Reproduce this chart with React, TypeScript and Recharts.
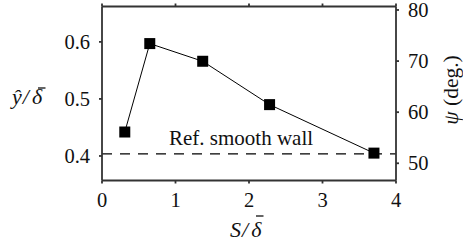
import {
  ComposedChart,
  Line,
  XAxis,
  YAxis,
  ReferenceLine,
} from "recharts";

// spacing S/delta and the measured ŷ/delta
const spacing = [0.31, 0.65, 1.37, 2.28, 3.7];
const yHat = [0.442, 0.597, 0.566, 0.49, 0.405];
const refSmoothWall = 0.4035;

const xTicks = [0, 1, 2, 3, 4];
const leftTicks = [0.4, 0.5, 0.6];
const rightTicks = [50, 60, 70, 80];

const data = spacing.map((s, i) => ({ s, y: yHat[i] }));

const FONT = "Liberation Serif, Times New Roman, serif";
const AXIS = "#333";
const INK = "#111";

const Square = (props: any) => {
  const { cx, cy } = props;
  if (cx == null || cy == null) return <g />;
  return <rect x={cx - 5.5} y={cy - 5.5} width={11} height={11} fill="#000" />;
};

const makeTick = (anchor: "start" | "middle" | "end", fmt: (v: number) => string) => (props: any) => {
  const { x, y, payload } = props;
  const dy = anchor === "middle" ? 14.5 : 7;
  return (
    <text x={x} y={y} dy={dy} textAnchor={anchor} fontFamily={FONT} fontSize={20.5} fill={INK}>
      {fmt(payload.value)}
    </text>
  );
};

// "a/δ̄" typeset loosely, with the bar over delta drawn as a line
const RatioLabel = ({ x, y, num, barLift }: { x: number; y: number; num: string; barLift: number }) => (
  <g>
    <text x={x} y={y} fontFamily={FONT} fontSize={22} fontStyle="italic" fill={INK}>
      {num}
      <tspan dx={1}>/</tspan>
      <tspan dx={3}>δ</tspan>
    </text>
    <line x1={x + 26} x2={x + 33.5} y1={y - barLift} y2={y - barLift} stroke={INK} strokeWidth={1.3} />
  </g>
);

export default function App() {
  return (
    <div style={{ position: "absolute", left: 0, top: 0, width: 463, height: 251 }}>
      <ComposedChart
        width={463}
        height={251}
        data={data}
        margin={{ top: 0, right: 0, bottom: 0, left: 0 }}
      >
        <XAxis
          xAxisId="bottom"
          dataKey="s"
          type="number"
          domain={[0, 4]}
          ticks={xTicks}
          height={70.5}
          tickSize={3}
          tickMargin={9}
          stroke={AXIS}
          strokeWidth={1.8}
          tick={makeTick("middle", (v) => String(v))}
          label={{ content: () => <RatioLabel x={230} y={237} num="S" barLift={21} /> }}
        />
        <XAxis
          xAxisId="top"
          orientation="top"
          dataKey="s"
          type="number"
          domain={[0, 4]}
          ticks={xTicks}
          height={6.5}
          tickSize={3}
          stroke={AXIS}
          strokeWidth={1.8}
          tick={() => <g />}
        />
        <YAxis
          yAxisId="left"
          type="number"
          domain={[0.357, 0.662]}
          ticks={leftTicks}
          width={102}
          tickSize={3}
          tickMargin={9}
          stroke={AXIS}
          strokeWidth={1.8}
          tick={makeTick("end", (v) => v.toFixed(1))}
          allowDataOverflow
          label={{ content: () => <RatioLabel x={12} y={104} num="ŷ" barLift={16} /> }}
        />
        <YAxis
          yAxisId="right"
          orientation="right"
          type="number"
          domain={[46.63, 80.68]}
          ticks={rightTicks}
          width={67}
          tickSize={3}
          tickMargin={9}
          stroke={AXIS}
          strokeWidth={1.8}
          tick={makeTick("start", (v) => String(v))}
          allowDataOverflow
          label={{
            content: () => (
              <text
                x={458}
                y={90}
                transform="rotate(-90 458 90)"
                textAnchor="middle"
                fontFamily={FONT}
                fontSize={21.5}
                fill={INK}
              >
                <tspan fontStyle="italic">ψ</tspan> (deg.)
              </text>
            ),
          }}
        />
        <ReferenceLine
          xAxisId="bottom"
          yAxisId="left"
          y={refSmoothWall}
          stroke="#000"
          strokeWidth={1.3}
          strokeDasharray="10 8"
          label={{
            content: (p: any) => {
              const vb = p.viewBox || {};
              return (
                <text x={(vb.x ?? 0) + 67} y={(vb.y ?? 0) - 9} fontFamily={FONT} fontSize={21} fill={INK}>
                  Ref. smooth wall
                </text>
              );
            },
          }}
        />
        <Line
          xAxisId="bottom"
          yAxisId="left"
          dataKey="y"
          type="linear"
          stroke="#000"
          strokeWidth={1}
          dot={<Square />}
          activeDot={false}
          isAnimationActive={false}
        />
      </ComposedChart>
    </div>
  );
}
